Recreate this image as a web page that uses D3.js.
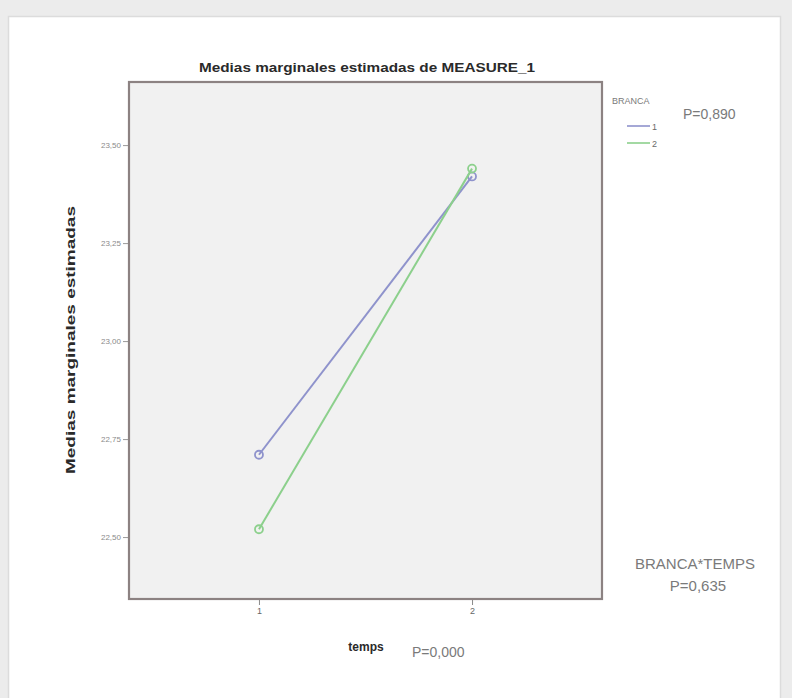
<!DOCTYPE html>
<html>
<head>
<meta charset="utf-8">
<script src="https://cdn.jsdelivr.net/npm/d3@7"></script>
<style>
  html, body { margin: 0; padding: 0; background: #ececec; }
  svg { display: block; }
</style>
</head>
<body>
<svg id="chart" width="792" height="698"></svg>
<script>
// Estimated marginal means of MEASURE_1 by time (temps) for each BRANCA group
const temps = [1, 2];
const brancaGroups = ["1", "2"];
const branca1 = [22.71, 23.42];
const branca2 = [22.52, 23.44];
const yTicks = [22.50, 22.75, 23.00, 23.25, 23.50];
const xTicks = [1, 2];
const seriesColors = ["#8f93cc", "#8cd08c"];

const svg = d3.select("#chart");

// page panel
svg.append("rect").attr("x", 0).attr("y", 0).attr("width", 792).attr("height", 698).attr("fill", "#ececec");
svg.append("rect").attr("x", 8.5).attr("y", 16.5).attr("width", 772).attr("height", 690)
  .attr("fill", "#ffffff").attr("stroke", "#dcdcdc").attr("stroke-width", 1.5);

const plot = { left: 129, right: 602, top: 82, bottom: 599 };

const x = d3.scaleLinear().domain([0.39, 2.61]).range([plot.left, plot.right]);
const y = d3.scaleLinear().domain([22.342, 23.661]).range([plot.bottom, plot.top]);

// plot background
svg.append("rect")
  .attr("x", plot.left).attr("y", plot.top)
  .attr("width", plot.right - plot.left).attr("height", plot.bottom - plot.top)
  .attr("fill", "#f1f1f1");

const fmt = v => d3.format(".2f")(v).replace(".", ",");

// y axis
const yAxis = svg.append("g")
  .attr("transform", `translate(${plot.left},0)`)
  .call(d3.axisLeft(y).tickValues(yTicks).tickFormat(fmt).tickSize(6).tickPadding(2));
yAxis.select(".domain").remove();
yAxis.selectAll("line").attr("stroke", "#9a9a9a").attr("stroke-width", 1);
yAxis.selectAll("text").attr("fill", "#8a8a8a").attr("font-family", "Liberation Sans, Arial, sans-serif").attr("font-size", 8);

// x axis
const xAxis = svg.append("g")
  .attr("transform", `translate(0,${plot.bottom})`)
  .call(d3.axisBottom(x).tickValues(xTicks).tickFormat(d3.format("d")).tickSize(6).tickPadding(3));
xAxis.select(".domain").remove();
xAxis.selectAll("line").attr("stroke", "#8a8a8a").attr("stroke-width", 1);
xAxis.selectAll("text").attr("fill", "#666").attr("font-family", "Liberation Sans, Arial, sans-serif").attr("font-size", 9);

// plot frame
svg.append("rect")
  .attr("x", plot.left).attr("y", plot.top)
  .attr("width", plot.right - plot.left).attr("height", plot.bottom - plot.top)
  .attr("fill", "none").attr("stroke", "#8c8282").attr("stroke-width", 2.2);

// series lines and markers
const series = [branca1, branca2];
const line = d3.line().x((d, i) => x(temps[i])).y(d => y(d));
series.forEach((vals, s) => {
  svg.append("path").datum(vals)
    .attr("d", line)
    .attr("fill", "none")
    .attr("stroke", seriesColors[s])
    .attr("stroke-width", 2);
  svg.selectAll(null).data(vals).enter().append("circle")
    .attr("cx", (d, i) => x(temps[i]))
    .attr("cy", d => y(d))
    .attr("r", 4)
    .attr("fill", "none")
    .attr("stroke", seriesColors[s])
    .attr("stroke-width", 1.8);
});

const font = "Liberation Sans, Arial, sans-serif";

// title
svg.append("text")
  .attr("x", 367).attr("y", 72)
  .attr("text-anchor", "middle")
  .attr("font-family", font).attr("font-weight", "bold").attr("font-size", 13)
  .attr("fill", "#2a2a2a")
  .attr("textLength", 336).attr("lengthAdjust", "spacingAndGlyphs")
  .text("Medias marginales estimadas de MEASURE_1");

// y axis title
svg.append("text")
  .attr("transform", "translate(75,340) rotate(-90)")
  .attr("text-anchor", "middle")
  .attr("font-family", font).attr("font-weight", "bold").attr("font-size", 12)
  .attr("fill", "#2a2a2a")
  .attr("textLength", 268).attr("lengthAdjust", "spacingAndGlyphs")
  .text("Medias marginales estimadas");

// x axis title
svg.append("text")
  .attr("x", 366).attr("y", 651)
  .attr("text-anchor", "middle")
  .attr("font-family", font).attr("font-weight", "bold").attr("font-size", 12)
  .attr("fill", "#2a2a2a")
  .text("temps");

svg.append("text")
  .attr("x", 412).attr("y", 657)
  .attr("font-family", font).attr("font-size", 14)
  .attr("fill", "#7a7a7a")
  .text("P=0,000");

// legend
svg.append("text")
  .attr("x", 612).attr("y", 104)
  .attr("font-family", font).attr("font-size", 9)
  .attr("fill", "#7a7a7a")
  .text("BRANCA");

const legY = [126, 143];
brancaGroups.forEach((g, i) => {
  svg.append("line")
    .attr("x1", 627).attr("x2", 650)
    .attr("y1", legY[i]).attr("y2", legY[i])
    .attr("stroke", seriesColors[i]).attr("stroke-width", 1.6);
  svg.append("text")
    .attr("x", 652).attr("y", legY[i] + 3.5)
    .attr("font-family", font).attr("font-size", 9)
    .attr("fill", "#6a6a6a")
    .text(g);
});

svg.append("text")
  .attr("x", 683).attr("y", 119)
  .attr("font-family", font).attr("font-size", 14)
  .attr("fill", "#7a7a7a")
  .text("P=0,890");

svg.append("text")
  .attr("x", 695).attr("y", 569)
  .attr("text-anchor", "middle")
  .attr("font-family", font).attr("font-size", 15)
  .attr("fill", "#7a7a7a")
  .text("BRANCA*TEMPS");

svg.append("text")
  .attr("x", 698).attr("y", 591)
  .attr("text-anchor", "middle")
  .attr("font-family", font).attr("font-size", 15)
  .attr("fill", "#7a7a7a")
  .text("P=0,635");
</script>
</body>
</html>
